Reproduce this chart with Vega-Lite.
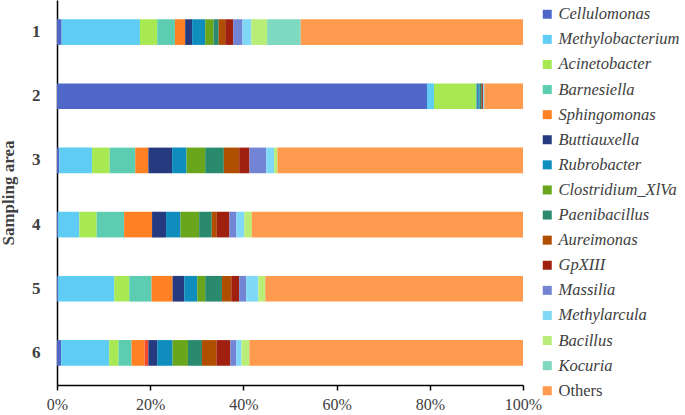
{
  "$schema": "https://vega.github.io/schema/vega-lite/v6.json",
  "width": 466,
  "height": 385,
  "autosize": {"type": "none"},
  "padding": {"left": 57, "top": 0, "right": 162, "bottom": 30},
  "config": {"view": {"stroke": null}, "font": "Liberation Serif"},
  "data": {"values": [
    {"area": "1", "taxon": "Cellulomonas", "rank": 0, "share": 1.0},
    {"area": "1", "taxon": "Methylobacterium", "rank": 1, "share": 16.8},
    {"area": "1", "taxon": "Acinetobacter", "rank": 2, "share": 3.7},
    {"area": "1", "taxon": "Barnesiella", "rank": 3, "share": 3.8},
    {"area": "1", "taxon": "Sphingomonas", "rank": 4, "share": 2.2},
    {"area": "1", "taxon": "Buttiauxella", "rank": 6, "share": 1.5},
    {"area": "1", "taxon": "Rubrobacter", "rank": 7, "share": 2.8},
    {"area": "1", "taxon": "Clostridium_XlVa", "rank": 8, "share": 1.8},
    {"area": "1", "taxon": "Paenibacillus", "rank": 9, "share": 1.1},
    {"area": "1", "taxon": "Aureimonas", "rank": 10, "share": 1.4},
    {"area": "1", "taxon": "GpXIII", "rank": 11, "share": 1.7},
    {"area": "1", "taxon": "Massilia", "rank": 12, "share": 2.0},
    {"area": "1", "taxon": "Methylarcula", "rank": 13, "share": 1.9},
    {"area": "1", "taxon": "Bacillus", "rank": 14, "share": 3.4},
    {"area": "1", "taxon": "Kocuria", "rank": 15, "share": 7.2},
    {"area": "1", "taxon": "Others", "rank": 16, "share": 47.7},

    {"area": "2", "taxon": "Cellulomonas", "rank": 0, "share": 79.4},
    {"area": "2", "taxon": "Methylobacterium", "rank": 1, "share": 1.5},
    {"area": "2", "taxon": "Acinetobacter", "rank": 2, "share": 9.0},
    {"area": "2", "taxon": "Barnesiella", "rank": 3, "share": 0.3},
    {"area": "2", "taxon": "Buttiauxella", "rank": 6, "share": 0.2},
    {"area": "2", "taxon": "Rubrobacter", "rank": 7, "share": 0.3},
    {"area": "2", "taxon": "Paenibacillus", "rank": 9, "share": 0.4},
    {"area": "2", "taxon": "GpXIII", "rank": 11, "share": 0.3},
    {"area": "2", "taxon": "Methylarcula", "rank": 13, "share": 0.3},
    {"area": "2", "taxon": "Others", "rank": 16, "share": 8.3},

    {"area": "3", "taxon": "Cellulomonas", "rank": 0, "share": 0.5},
    {"area": "3", "taxon": "Methylobacterium", "rank": 1, "share": 7.0},
    {"area": "3", "taxon": "Acinetobacter", "rank": 2, "share": 3.8},
    {"area": "3", "taxon": "Barnesiella", "rank": 3, "share": 5.5},
    {"area": "3", "taxon": "Sphingomonas", "rank": 4, "share": 2.8},
    {"area": "3", "taxon": "Buttiauxella", "rank": 6, "share": 5.1},
    {"area": "3", "taxon": "Rubrobacter", "rank": 7, "share": 3.1},
    {"area": "3", "taxon": "Clostridium_XlVa", "rank": 8, "share": 4.0},
    {"area": "3", "taxon": "Paenibacillus", "rank": 9, "share": 4.0},
    {"area": "3", "taxon": "Aureimonas", "rank": 10, "share": 3.3},
    {"area": "3", "taxon": "GpXIII", "rank": 11, "share": 2.2},
    {"area": "3", "taxon": "Massilia", "rank": 12, "share": 3.6},
    {"area": "3", "taxon": "Methylarcula", "rank": 13, "share": 1.7},
    {"area": "3", "taxon": "Bacillus", "rank": 14, "share": 0.7},
    {"area": "3", "taxon": "Others", "rank": 16, "share": 52.7},

    {"area": "4", "taxon": "Cellulomonas", "rank": 0, "share": 0.2},
    {"area": "4", "taxon": "Methylobacterium", "rank": 1, "share": 4.6},
    {"area": "4", "taxon": "Acinetobacter", "rank": 2, "share": 3.7},
    {"area": "4", "taxon": "Barnesiella", "rank": 3, "share": 5.9},
    {"area": "4", "taxon": "Sphingomonas", "rank": 4, "share": 6.0},
    {"area": "4", "taxon": "Buttiauxella", "rank": 6, "share": 3.0},
    {"area": "4", "taxon": "Rubrobacter", "rank": 7, "share": 3.1},
    {"area": "4", "taxon": "Clostridium_XlVa", "rank": 8, "share": 4.0},
    {"area": "4", "taxon": "Paenibacillus", "rank": 9, "share": 2.7},
    {"area": "4", "taxon": "Aureimonas", "rank": 10, "share": 1.1},
    {"area": "4", "taxon": "GpXIII", "rank": 11, "share": 2.7},
    {"area": "4", "taxon": "Massilia", "rank": 12, "share": 1.5},
    {"area": "4", "taxon": "Methylarcula", "rank": 13, "share": 1.7},
    {"area": "4", "taxon": "Bacillus", "rank": 14, "share": 1.6},
    {"area": "4", "taxon": "Others", "rank": 16, "share": 58.2},

    {"area": "5", "taxon": "Cellulomonas", "rank": 0, "share": 0.2},
    {"area": "5", "taxon": "Methylobacterium", "rank": 1, "share": 12.1},
    {"area": "5", "taxon": "Acinetobacter", "rank": 2, "share": 3.2},
    {"area": "5", "taxon": "Barnesiella", "rank": 3, "share": 4.8},
    {"area": "5", "taxon": "Sphingomonas", "rank": 4, "share": 4.5},
    {"area": "5", "taxon": "Buttiauxella", "rank": 6, "share": 2.5},
    {"area": "5", "taxon": "Rubrobacter", "rank": 7, "share": 2.8},
    {"area": "5", "taxon": "Clostridium_XlVa", "rank": 8, "share": 1.7},
    {"area": "5", "taxon": "Paenibacillus", "rank": 9, "share": 3.6},
    {"area": "5", "taxon": "Aureimonas", "rank": 10, "share": 2.0},
    {"area": "5", "taxon": "GpXIII", "rank": 11, "share": 1.7},
    {"area": "5", "taxon": "Massilia", "rank": 12, "share": 1.5},
    {"area": "5", "taxon": "Methylarcula", "rank": 13, "share": 2.6},
    {"area": "5", "taxon": "Bacillus", "rank": 14, "share": 1.5},
    {"area": "5", "taxon": "Others", "rank": 16, "share": 55.3},

    {"area": "6", "taxon": "Cellulomonas", "rank": 0, "share": 0.9},
    {"area": "6", "taxon": "Methylobacterium", "rank": 1, "share": 10.3},
    {"area": "6", "taxon": "Acinetobacter", "rank": 2, "share": 2.0},
    {"area": "6", "taxon": "Barnesiella", "rank": 3, "share": 2.8},
    {"area": "6", "taxon": "Sphingomonas", "rank": 4, "share": 2.8},
    {"area": "6", "taxon": "Unlisted genus", "rank": 5, "share": 0.8},
    {"area": "6", "taxon": "Buttiauxella", "rank": 6, "share": 1.9},
    {"area": "6", "taxon": "Rubrobacter", "rank": 7, "share": 3.3},
    {"area": "6", "taxon": "Clostridium_XlVa", "rank": 8, "share": 3.3},
    {"area": "6", "taxon": "Paenibacillus", "rank": 9, "share": 3.0},
    {"area": "6", "taxon": "Aureimonas", "rank": 10, "share": 3.1},
    {"area": "6", "taxon": "GpXIII", "rank": 11, "share": 3.0},
    {"area": "6", "taxon": "Massilia", "rank": 12, "share": 1.3},
    {"area": "6", "taxon": "Methylarcula", "rank": 13, "share": 1.1},
    {"area": "6", "taxon": "Bacillus", "rank": 14, "share": 1.7},
    {"area": "6", "taxon": "Others", "rank": 16, "share": 58.7}
  ]},
  "mark": {"type": "bar"},
  "encoding": {
    "y": {
      "field": "area", "type": "ordinal", "title": "Sampling area",
      "scale": {"paddingInner": 0.6, "paddingOuter": 0.3},
      "axis": {
        "ticks": false, "domainColor": "#000000", "domainWidth": 1.5,
        "labelFont": "Liberation Serif", "labelFontSize": 17, "labelFontWeight": "bold", "labelColor": "#404040",
        "labelPadding": 17, "labelAngle": 0,
        "titleFont": "Liberation Serif", "titleFontSize": 17, "titleFontWeight": "bold", "titleColor": "#404040",
        "titlePadding": 14
      }
    },
    "x": {
      "field": "share", "type": "quantitative", "stack": "normalize", "title": null,
      "scale": {"domain": [0, 1], "nice": false},
      "axis": {
        "format": "%", "values": [0, 0.2, 0.4, 0.6, 0.8, 1], "grid": false,
        "domainColor": "#000000", "domainWidth": 1.5, "tickColor": "#000000", "tickWidth": 1.5, "tickSize": 5,
        "labelFont": "Liberation Serif", "labelFontSize": 16, "labelColor": "#404040", "labelPadding": 6, "labelFlush": false
      }
    },
    "color": {
      "field": "taxon", "type": "nominal",
      "scale": {
        "domain": ["Cellulomonas", "Methylobacterium", "Acinetobacter", "Barnesiella", "Sphingomonas", "Unlisted genus", "Buttiauxella", "Rubrobacter", "Clostridium_XlVa", "Paenibacillus", "Aureimonas", "GpXIII", "Massilia", "Methylarcula", "Bacillus", "Kocuria", "Others"],
        "range": ["#4f68c8", "#5fcdf3", "#a8e852", "#5ccdb0", "#ff8124", "#f04a2a", "#263a80", "#0f8dbd", "#6aa61c", "#2a8a6e", "#b04e00", "#a02010", "#7384d4", "#7fd8f5", "#b8ee78", "#7fd8c0", "#ff9a4e"]
      },
      "legend": {
        "values": ["Cellulomonas", "Methylobacterium", "Acinetobacter", "Barnesiella", "Sphingomonas", "Buttiauxella", "Rubrobacter", "Clostridium_XlVa", "Paenibacillus", "Aureimonas", "GpXIII", "Massilia", "Methylarcula", "Bacillus", "Kocuria", "Others"],
        "title": null, "orient": "none", "legendX": 482, "legendY": 6,
        "symbolType": "square", "symbolSize": 81, "symbolStrokeWidth": 0,
        "labelFontSize": 16.5, "labelColor": "#404040", "labelFont": "Liberation Serif",
        "labelFontStyle": "italic", "labelOffset": 3, "rowPadding": 8.1, "labelLimit": 200,
        "encode": {"labels": {"update": {"fontStyle": {"signal": "datum.label === 'Others' ? 'normal' : 'italic'"}}}}
      }
    },
    "order": {"field": "rank", "type": "quantitative"}
  }
}
